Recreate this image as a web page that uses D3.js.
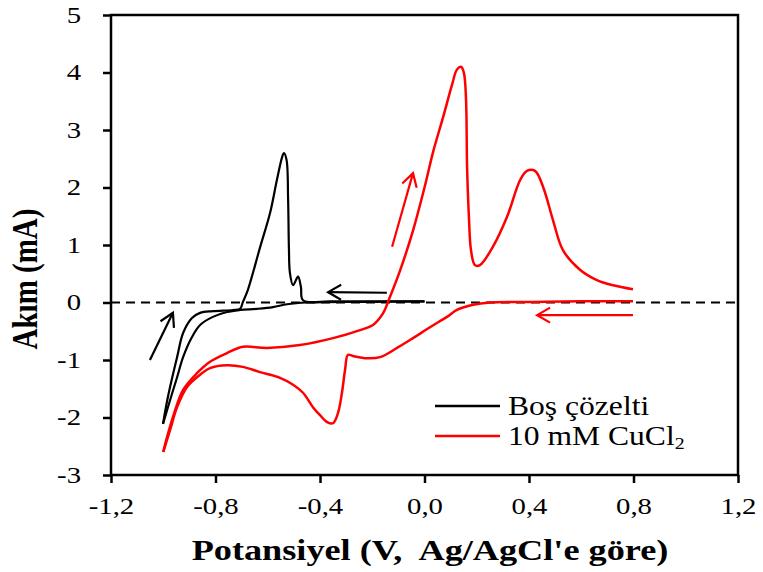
<!DOCTYPE html>
<html>
<head>
<meta charset="utf-8">
<script src="https://cdn.jsdelivr.net/npm/d3@7"></script>
<style>
  body { margin: 0; background: #fff; }
  text { font-family: "Times New Roman", "Liberation Serif", serif; fill: #000; }
  .axis path, .axis line { stroke: #000; stroke-width: 2.5; }
  .axis text { font-size: 23px; }
</style>
</head>
<body>
<div id="chart"></div>
<script>

// tick values
var xTicks = [-1.2, -0.8, -0.4, 0.0, 0.4, 0.8, 1.2];
var yTicks = [-3, -2, -1, 0, 1, 2, 3, 4, 5];

// blank solution, [potential V, current mA]
var blankForward = [
  [-1.001, -2.11], [-0.982, -1.64], [-0.947, -0.95], [-0.924, -0.53], [-0.890, -0.27],
  [-0.859, -0.18], [-0.810, -0.15], [-0.733, -0.13], [-0.706, -0.11], [-0.695, 0.01],
  [-0.676, 0.22], [-0.630, 0.95], [-0.591, 1.56], [-0.565, 2.13], [-0.545, 2.53],
  [-0.538, 2.60], [-0.528, 2.48], [-0.522, 1.78], [-0.519, 0.95], [-0.515, 0.51],
  [-0.503, 0.30], [-0.484, 0.45], [-0.473, 0.27], [-0.465, 0.04], [-0.36, 0.02],
  [-0.2, 0.02], [0.0, 0.02]
];
var blankReverse = [
  [0.0, 0.02], [-0.2, 0.01], [-0.45, 0.0], [-0.526, -0.03], [-0.58, -0.08],
  [-0.641, -0.11], [-0.706, -0.13], [-0.756, -0.165], [-0.81, -0.25], [-0.859, -0.39],
  [-0.89, -0.6], [-0.924, -0.95], [-0.947, -1.30], [-0.974, -1.70], [-1.001, -2.11]
];

// 10 mM CuCl2
var cuForward = [
  [-1.0, -2.60], [-0.986, -2.35], [-0.96, -1.95], [-0.924, -1.52], [-0.871, -1.23],
  [-0.821, -1.03], [-0.756, -0.88], [-0.695, -0.77], [-0.603, -0.79], [-0.477, -0.74],
  [-0.35, -0.62], [-0.247, -0.48], [-0.197, -0.39], [-0.159, -0.19], [-0.132, 0.10],
  [-0.094, 0.55], [-0.044, 1.25], [0.0, 2.0], [0.033, 2.62], [0.071, 3.22],
  [0.105, 3.78], [0.124, 4.05], [0.14, 4.10], [0.151, 3.99], [0.159, 3.52],
  [0.163, 2.36], [0.170, 1.49], [0.178, 0.91], [0.193, 0.65], [0.212, 0.65],
  [0.262, 0.97], [0.316, 1.49], [0.366, 2.13], [0.392, 2.29], [0.423, 2.29],
  [0.454, 2.01], [0.492, 1.43], [0.530, 0.91], [0.595, 0.57], [0.66, 0.39],
  [0.722, 0.30], [0.798, 0.23]
];
var cuReverse = [
  [0.798, 0.02], [0.6, 0.02], [0.4, 0.01], [0.251, 0.0], [0.186, -0.04],
  [0.124, -0.13], [0.086, -0.25], [0.021, -0.43], [-0.044, -0.62], [-0.105, -0.79],
  [-0.17, -0.95], [-0.22, -0.97], [-0.274, -0.93], [-0.293, -0.91], [-0.304, -1.17],
  [-0.316, -1.57], [-0.331, -1.92], [-0.35, -2.10], [-0.373, -2.08], [-0.40, -1.96],
  [-0.427, -1.82], [-0.465, -1.57], [-0.503, -1.43], [-0.553, -1.31], [-0.63, -1.21],
  [-0.695, -1.12], [-0.756, -1.09], [-0.821, -1.14], [-0.871, -1.30], [-0.909, -1.47],
  [-0.947, -1.82], [-0.974, -2.22], [-1.0, -2.60]
];

// scan direction arrows, [from, to] in data units
var blankArrows = [
  [[-1.051, -1.0], [-0.963, -0.18]],
  [[-0.144, 0.17], [-0.369, 0.18]]
];
var cuArrows = [
  [[-0.124, 0.97], [-0.044, 2.25]],
  [[0.798, -0.22], [0.431, -0.22]]
];

var legendNames = ["Boş çözelti", "10 mM CuCl"];


var margin = { left: 111, right: 25, top: 15, bottom: 97 };
var width = 763 - margin.left - margin.right;
var height = 572 - margin.top - margin.bottom;

var svgRoot = d3.select("#chart")
  .append("svg")
  .attr("width", 763)
  .attr("height", 572);

var svg = svgRoot.append("g")
  .attr("transform", "translate(" + margin.left + "," + margin.top + ")");

var x = d3.scaleLinear().domain([-1.2, 1.2]).range([0, width]);
var y = d3.scaleLinear().domain([-3, 5]).range([height, 0]);

// frame
svg.append("rect")
  .attr("width", width)
  .attr("height", height)
  .attr("fill", "none")
  .attr("stroke", "#000")
  .attr("stroke-width", 2.5);

// zero line
svg.append("line")
  .attr("x1", 0).attr("x2", width)
  .attr("y1", y(0)).attr("y2", y(0))
  .attr("stroke", "#000")
  .attr("stroke-width", 2)
  .attr("stroke-dasharray", "9,6");

var xAxis = svg.append("g")
  .attr("class", "axis")
  .attr("transform", "translate(0," + height + ")")
  .call(d3.axisBottom(x).tickValues(xTicks).tickSize(8).tickPadding(15)
    .tickFormat(function(d){ return d3.format(".1f")(d).replace(".", ",").replace("−", "-") }));

var yAxis = svg.append("g")
  .attr("class", "axis")
  .call(d3.axisLeft(y).tickValues(yTicks).tickSize(8).tickPadding(16)
    .tickFormat(function(d){ return String(d) }));

// the source picture is stretched sideways, so widen the glyphs too
svg.selectAll(".axis text").attr("transform", "scale(1.25,1)");
svg.selectAll(".axis .domain").remove();

var line = d3.line()
  .x(function(d) { return x(d[0]); })
  .y(function(d) { return y(d[1]); })
  .curve(d3.curveCatmullRom.alpha(0.5));

svg.append("path").datum(blankForward)
  .attr("d", line).attr("fill", "none").attr("stroke", "#000").attr("stroke-width", 2.2);
svg.append("path").datum(blankReverse)
  .attr("d", line).attr("fill", "none").attr("stroke", "#000").attr("stroke-width", 2.2);
svg.append("path").datum(cuForward)
  .attr("d", line).attr("fill", "none").attr("stroke", "#ff0000").attr("stroke-width", 2.5);
svg.append("path").datum(cuReverse)
  .attr("d", line).attr("fill", "none").attr("stroke", "#ff0000").attr("stroke-width", 2.5);

function drawArrow(a, color) {
  var x0 = x(a[0][0]), y0 = y(a[0][1]);
  var x1 = x(a[1][0]), y1 = y(a[1][1]);
  var ang = Math.atan2(y0 - y1, x0 - x1);
  var len = 15, spread = Math.PI / 6;
  var pts = [
    [x1 + len * Math.cos(ang + spread), y1 + len * Math.sin(ang + spread)],
    [x1, y1],
    [x1 + len * Math.cos(ang - spread), y1 + len * Math.sin(ang - spread)]
  ];
  svg.append("line")
    .attr("x1", x0).attr("y1", y0).attr("x2", x1).attr("y2", y1)
    .attr("stroke", color).attr("stroke-width", 2.2);
  svg.append("polyline")
    .attr("points", pts.map(function(p){ return p.join(",") }).join(" "))
    .attr("fill", "none").attr("stroke", color).attr("stroke-width", 2.2);
}
blankArrows.forEach(function(a){ drawArrow(a, "#000") });
cuArrows.forEach(function(a){ drawArrow(a, "#ff0000") });

// legend
var legend = svgRoot.append("g");
var legendColors = ["#000", "#ff0000"];
legendNames.forEach(function(name, i) {
  var ly = 406 + i * 30;
  legend.append("line")
    .attr("x1", 435).attr("x2", 500)
    .attr("y1", ly).attr("y2", ly)
    .attr("stroke", legendColors[i]).attr("stroke-width", 2.5);
  var t = legend.append("text")
    .attr("transform", "translate(508," + (ly + 9) + ") scale(1.17,1)")
    .style("font-size", "27px")
    .text(name);
  if (i == 1) {
    t.append("tspan").attr("dy", 4).style("font-size", "17px").text("2");
  }
});

// axis titles
svgRoot.append("text")
  .attr("transform", "translate(430,560) scale(1.25,1)")
  .attr("text-anchor", "middle")
  .style("font-size", "29px")
  .style("font-weight", "bold")
  .style("white-space", "pre")
  .text("Potansiyel (V,  Ag/AgCl'e göre)");

svgRoot.append("text")
  .attr("transform", "translate(37,279) scale(1.2,1) rotate(-90)")
  .attr("text-anchor", "middle")
  .style("font-size", "29px")
  .style("font-weight", "bold")
  .text("Akım (mA)");

</script>
</body>
</html>
